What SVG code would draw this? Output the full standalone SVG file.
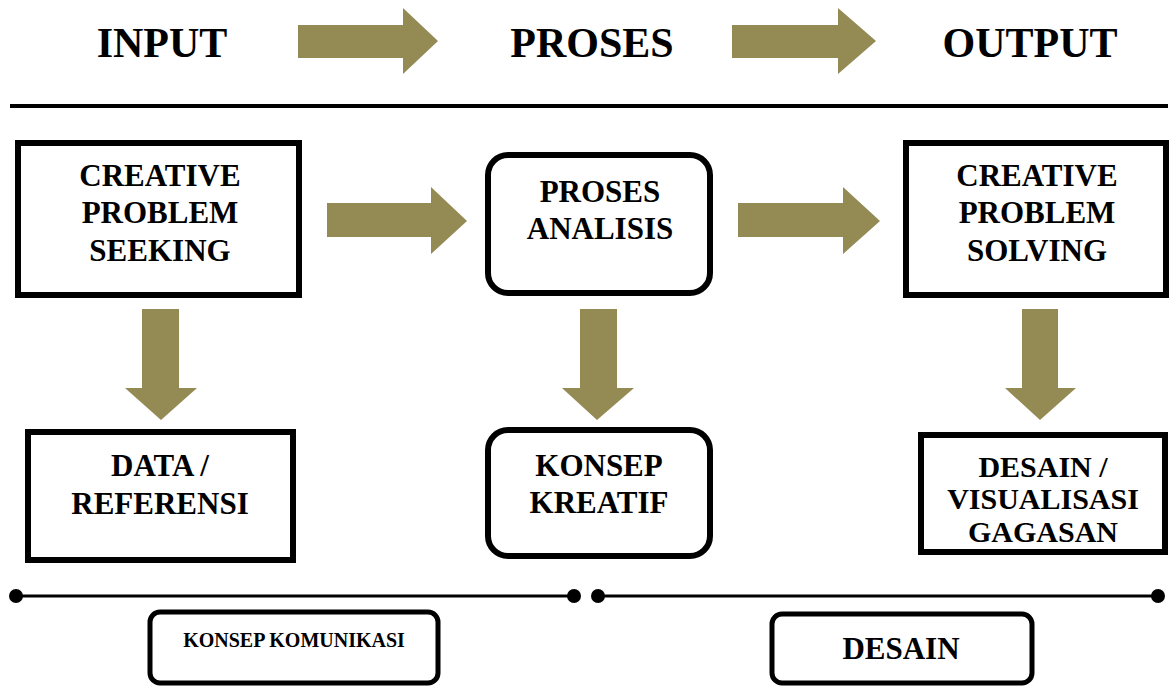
<svg xmlns="http://www.w3.org/2000/svg" width="1170" height="686" viewBox="0 0 1170 686">
<style>
.t{font-family:"Liberation Serif","Times New Roman",serif;font-weight:bold;fill:#000;text-anchor:middle}
.h{font-size:42px}
.b{font-size:31px}
.box{fill:#fff;stroke:#000;stroke-width:6}
.arr{fill:#948A54}
.ln{stroke:#000;stroke-width:3}
</style>
<rect width="1170" height="686" fill="#fff"/>
<g id="header">
<text class="t h" x="162" y="57">INPUT</text>
<text class="t h" x="592" y="57">PROSES</text>
<text class="t h" x="1030" y="57">OUTPUT</text>
<line x1="10" y1="106" x2="1168" y2="106" stroke="#000" stroke-width="4"/>
</g>
<g id="connectors">
<polygon class="arr" points="298,25 403,25 403,8 438,41 403,74 403,58 298,58"/>
<polygon class="arr" points="732,25 838,25 838,8 876,41 838,74 838,58 732,58"/>
<polygon class="arr" points="327,203 431,203 431,187 467,221 431,254 431,237 327,237"/>
<polygon class="arr" points="738,203 843,203 843,187 880,221 843,254 843,237 738,237"/>
<polygon class="arr" points="142,309 179,309 179,388 197,388 161,420 125,388 142,388"/>
<polygon class="arr" points="580,309 617,309 617,388 634,388 597,420 562,388 580,388"/>
<polygon class="arr" points="1022,309 1058,309 1058,388 1076,388 1040,420 1005,388 1022,388"/>
</g>
<g id="n1">
<rect class="box" x="18" y="143" width="281" height="152"/>
<text class="t b" x="160" y="186">CREATIVE</text>
<text class="t b" x="160" y="223">PROBLEM</text>
<text class="t b" x="160" y="261">SEEKING</text>
</g>
<g id="n2">
<rect class="box" x="488" y="155" width="222" height="138" rx="20"/>
<text class="t b" x="600" y="202">PROSES</text>
<text class="t b" x="600" y="239">ANALISIS</text>
</g>
<g id="n3">
<rect class="box" x="906" y="143" width="260" height="152"/>
<text class="t b" x="1037" y="186">CREATIVE</text>
<text class="t b" x="1037" y="223">PROBLEM</text>
<text class="t b" x="1037" y="261">SOLVING</text>
</g>
<g id="n4">
<rect class="box" x="28" y="432" width="265" height="128"/>
<text class="t b" x="160" y="476">DATA /</text>
<text class="t b" x="160" y="514">REFERENSI</text>
</g>
<g id="n5">
<rect class="box" x="488" y="430" width="222" height="126" rx="20"/>
<text class="t b" x="599" y="476">KONSEP</text>
<text class="t b" x="599" y="513">KREATIF</text>
</g>
<g id="n6">
<rect class="box" x="921" y="435" width="244" height="117"/>
<text class="t" style="font-size:30px" x="1043" y="477">DESAIN /</text>
<text class="t" style="font-size:30px" x="1043" y="509">VISUALISASI</text>
<text class="t" style="font-size:30px" x="1043" y="542">GAGASAN</text>
</g>
<g id="timeline">
<line class="ln" x1="16" y1="596" x2="574" y2="596"/>
<circle cx="16" cy="596" r="7"/>
<circle cx="574" cy="596" r="7"/>
<line class="ln" x1="598" y1="596" x2="1158" y2="596"/>
<circle cx="598" cy="596" r="7"/>
<circle cx="1158" cy="596" r="7"/>
</g>
<g id="n7">
<rect x="150" y="612" width="288" height="71" rx="10" fill="#fff" stroke="#000" stroke-width="5"/>
<text class="t" style="font-size:20px" x="294" y="647">KONSEP KOMUNIKASI</text>
</g>
<g id="n8">
<rect x="772" y="614" width="260" height="69" rx="10" fill="#fff" stroke="#000" stroke-width="5"/>
<text class="t" style="font-size:31px" x="901" y="659">DESAIN</text>
</g>
</svg>
